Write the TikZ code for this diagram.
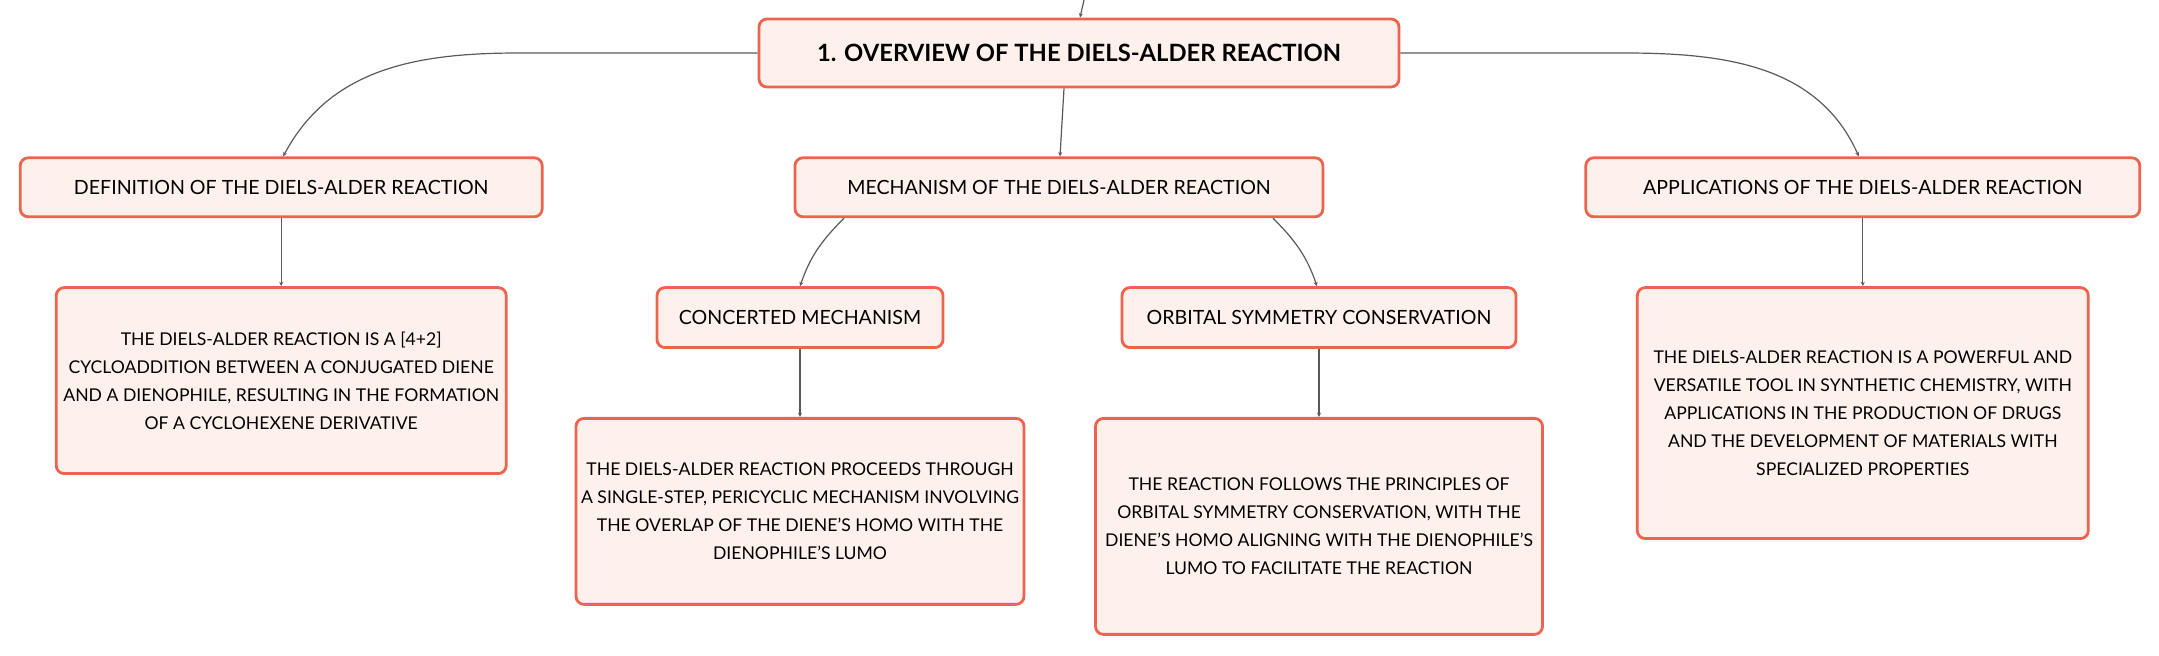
\documentclass[tikz,border=0pt]{standalone}
\usepackage{fontspec}
\setmainfont{Lato}
\usetikzlibrary{positioning,arrows.meta}
\definecolor{boxline}{HTML}{EC6350}
\definecolor{boxfill}{HTML}{FEF1EC}
\definecolor{linkgray}{HTML}{5A5A5A}
\begin{document}
\begin{tikzpicture}[
        topic/.style={draw=boxline, fill=boxfill, line width=1.4pt, rounded corners=4pt, align=center, inner sep=2pt},
        maintopic/.style={topic, minimum width=320pt, minimum height=34pt, font=\fontsize{11.9}{14}\selectfont\bfseries},
        subtopic/.style={topic, minimum height=29.5pt, font=\fontsize{9.8}{12}\selectfont},
        detail/.style={topic, minimum width=224pt, font=\fontsize{8.8}{14}\selectfont},
        link/.style={draw=linkgray, line width=0.6pt, -{Stealth[length=2.2pt,width=2pt]}}
    ]
        \useasboundingbox (0,0) rectangle (1079.5pt,-328pt);
        \node [maintopic] (overview) at (539.5pt,-26.5pt) {1. OVERVIEW OF THE DIELS-ALDER REACTION};
        \node [subtopic, minimum width=264pt, below=34pt of overview, xshift=-10pt] (mechanism) {MECHANISM OF THE DIELS-ALDER REACTION};
        \node [subtopic, minimum width=261pt, left=125pt of mechanism] (definition) {DEFINITION OF THE DIELS-ALDER REACTION};
        \node [subtopic, minimum width=277pt, right=130pt of mechanism] (applications) {APPLICATIONS OF THE DIELS-ALDER REACTION};
        \node [subtopic, minimum width=143pt, minimum height=30pt, below=34pt of mechanism, xshift=-129.5pt] (concerted) {CONCERTED MECHANISM};
        \node [subtopic, minimum width=197pt, minimum height=30pt, below=34pt of mechanism, xshift=130pt] (orbital) {ORBITAL SYMMETRY CONSERVATION};
        \node [detail, minimum width=225pt, minimum height=93pt, below=34pt of definition] (definition-text) {THE DIELS-ALDER REACTION IS A [4+2]\\CYCLOADDITION BETWEEN A CONJUGATED DIENE\\AND A DIENOPHILE, RESULTING IN THE FORMATION\\OF A CYCLOHEXENE DERIVATIVE};
        \node [detail, minimum width=225.5pt, minimum height=125.5pt, below=34pt of applications] (applications-text) {THE DIELS-ALDER REACTION IS A POWERFUL AND\\VERSATILE TOOL IN SYNTHETIC CHEMISTRY, WITH\\APPLICATIONS IN THE PRODUCTION OF DRUGS\\AND THE DEVELOPMENT OF MATERIALS WITH\\SPECIALIZED PROPERTIES};
        \node [detail, minimum height=93pt, below=34pt of concerted] (concerted-text) {THE DIELS-ALDER REACTION PROCEEDS THROUGH\\A SINGLE-STEP, PERICYCLIC MECHANISM INVOLVING\\THE OVERLAP OF THE DIENE’S HOMO WITH THE\\DIENOPHILE’S LUMO};
        \node [detail, minimum width=223.5pt, minimum height=108pt, below=34pt of orbital] (orbital-text) {THE REACTION FOLLOWS THE PRINCIPLES OF\\ORBITAL SYMMETRY CONSERVATION, WITH THE\\DIENE’S HOMO ALIGNING WITH THE DIENOPHILE’S\\LUMO TO FACILITATE THE REACTION};
        \coordinate (parent) at (542pt,0pt);
        \draw [link] (parent) -- ([xshift=0.5pt]overview.north);
        \draw [link] ([xshift=-7.5pt]overview.south) -- ([xshift=0.5pt]mechanism.north);
        \draw [link] (overview.west) -- +(-119pt,0) to[out=180, in=62] ([xshift=1pt]definition.north);
        \draw [link] (overview.east) -- +(111.5pt,0) to[out=0, in=114] ([xshift=-2pt]applications.north);
        \draw [link] ([xshift=-107.5pt]mechanism.south) to[out=225, in=71] (concerted.north);
        \draw [link] ([xshift=107pt]mechanism.south) to[out=-45, in=109] ([xshift=-1pt]orbital.north);
        \draw [link] (definition) -- (definition-text);
        \draw [link] (applications) -- (applications-text);
        \draw [link] (concerted) -- (concerted-text);
        \draw [link] (orbital) -- (orbital-text);
    \end{tikzpicture}
\end{document}
